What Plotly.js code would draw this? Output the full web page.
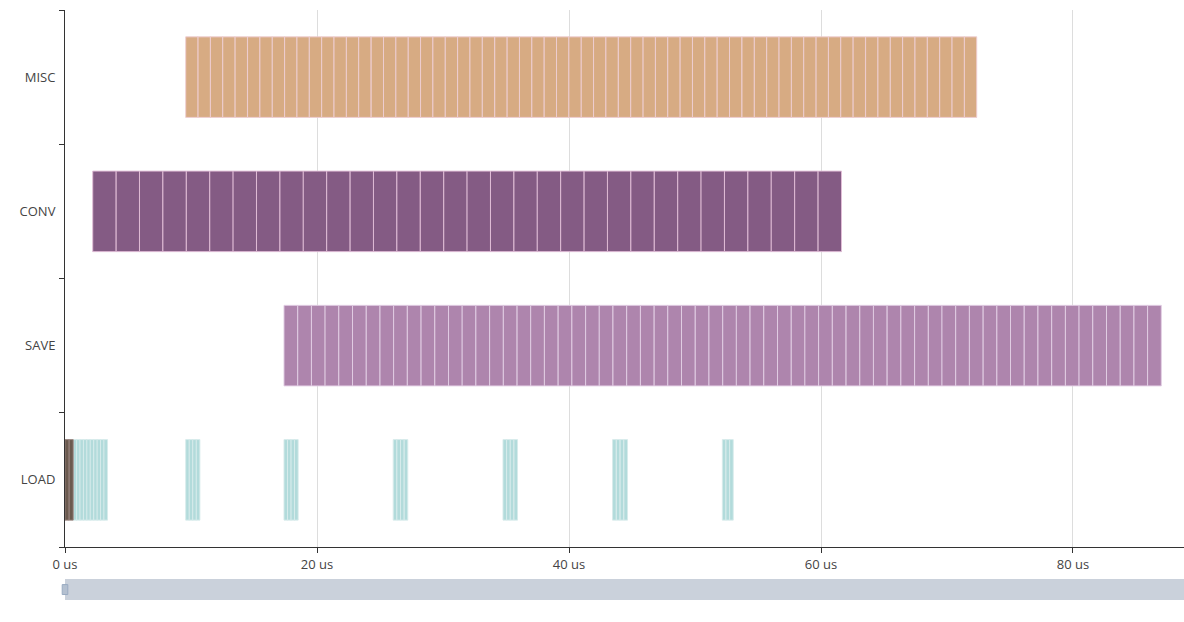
<!DOCTYPE html>
<html>
<head>
<meta charset="utf-8">
<script src="https://cdn.plot.ly/plotly-3.0.1.min.js"></script>
<style>
html,body{margin:0;padding:0;background:#fff;}
#chart{width:1184px;height:622px;}
</style>
</head>
<body>
<div id="chart"></div>
<script>
// Categories (bottom to top)
const categories = ['LOAD', 'SAVE', 'CONV', 'MISC'];

// Segment start times (us)
const miscStarts = [9.58, 10.56, 11.54, 12.52, 13.50, 14.49, 15.47, 16.45, 17.43, 18.41,
  19.39, 20.37, 21.35, 22.33, 23.31, 24.30, 25.28, 26.26, 27.24, 28.22,
  29.20, 30.18, 31.16, 32.14, 33.12, 34.11, 35.09, 36.07, 37.05, 38.03,
  39.01, 39.99, 40.97, 41.95, 42.93, 43.92, 44.90, 45.88, 46.86, 47.84,
  48.82, 49.80, 50.78, 51.76, 52.74, 53.73, 54.71, 55.69, 56.67, 57.65,
  58.63, 59.61, 60.59, 61.57, 62.55, 63.54, 64.52, 65.50, 66.48, 67.46,
  68.44, 69.42, 70.40, 71.38];
const miscDur = 0.98;

const convStarts = [2.20, 4.06, 5.91, 7.77, 9.63, 11.49, 13.34, 15.20, 17.06, 18.91,
  20.77, 22.63, 24.48, 26.34, 28.20, 30.06, 31.91, 33.77, 35.63, 37.48,
  39.34, 41.20, 43.05, 44.91, 46.77, 48.63, 50.48, 52.34, 54.20, 56.05,
  57.91, 59.77];
const convDur = 1.857;

const saveStarts = [17.38, 18.47, 19.56, 20.64, 21.73, 22.82, 23.91, 25.00, 26.08, 27.17,
  28.26, 29.35, 30.44, 31.52, 32.61, 33.70, 34.79, 35.88, 36.96, 38.05,
  39.14, 40.23, 41.32, 42.40, 43.49, 44.58, 45.67, 46.76, 47.84, 48.93,
  50.02, 51.11, 52.20, 53.28, 54.37, 55.46, 56.55, 57.64, 58.72, 59.81,
  60.90, 61.99, 63.08, 64.16, 65.25, 66.34, 67.43, 68.52, 69.60, 70.69,
  71.78, 72.87, 73.96, 75.04, 76.13, 77.22, 78.31, 79.40, 80.48, 81.57,
  82.66, 83.75, 84.84, 85.92];
const saveDur = 1.088;

const loadDarkStarts = [0.00, 0.33];
const loadDarkDur = 0.32;

const loadStarts = [0.65, 0.92, 1.19, 1.46, 1.73, 2.00, 2.28, 2.55, 2.82, 3.09,
  9.58, 9.86, 10.14, 10.42,
  17.38, 17.66, 17.94, 18.22,
  26.05, 26.34, 26.63, 26.92,
  34.76, 35.05, 35.34, 35.63,
  43.46, 43.76, 44.06, 44.36,
  52.17, 52.46, 52.75];
const loadDur = 0.285;

// Axis ticks
const xTicks = [0, 20, 40, 60, 80];
const xTickText = ['0 us', '20 us', '40 us', '60 us', '80 us'];

function seg(name, starts, dur, color, lineColor) {
  return {
    type: 'bar',
    orientation: 'h',
    name: name,
    y: starts.map(() => name === 'LOADDARK' ? 'LOAD' : name),
    base: starts,
    x: starts.map(() => dur),
    width: 0.6,
    marker: { color: color, line: { color: lineColor, width: 1 } },
    hoverinfo: 'skip',
    showlegend: false
  };
}

const traces = [
  seg('MISC', miscStarts, miscDur, '#d7ab83', 'rgba(238,205,210,0.95)'),
  seg('CONV', convStarts, convDur, '#845b84', 'rgba(226,190,215,0.95)'),
  seg('SAVE', saveStarts, saveDur, '#ae85ad', 'rgba(226,205,228,0.95)'),
  seg('LOAD', loadStarts, loadDur, '#b2dbdb', 'rgba(215,235,235,0.95)'),
  seg('LOADDARK', loadDarkStarts, loadDarkDur, '#6b5a4f', 'rgba(150,130,125,0.9)')
];

const layout = {
  width: 1184,
  height: 622,
  margin: { l: 65, r: 0, t: 10, b: 75 },
  paper_bgcolor: '#fff',
  plot_bgcolor: '#fff',
  barmode: 'overlay',
  font: { family: 'Open Sans, Noto Sans, sans-serif', size: 13, color: '#444' },
  xaxis: {
    range: [0, 88.81],
    tickvals: xTicks,
    ticktext: xTickText,
    showgrid: true,
    gridcolor: '#dddddd',
    gridwidth: 1,
    zeroline: false,
    showline: true,
    linecolor: '#333',
    linewidth: 1,
    ticks: 'outside',
    ticklen: 5,
    tickcolor: '#333',
    tickfont: { size: 13, color: '#444' },
    fixedrange: true
  },
  yaxis: {
    type: 'category',
    categoryorder: 'array',
    categoryarray: categories,
    range: [-0.5, 3.5],
    tickson: 'boundaries',
    ticks: 'outside',
    ticklen: 5,
    tickcolor: '#333',
    ticklabelstandoff: 6,
    showline: true,
    linecolor: '#333',
    linewidth: 1,
    showgrid: false,
    zeroline: false,
    tickfont: { size: 13, color: '#444' },
    fixedrange: true
  },
  shapes: [
    { type: 'rect', xref: 'paper', yref: 'paper', x0: 0, x1: 1, y0: -0.0987, y1: -0.0596,
      fillcolor: '#cad1db', line: { width: 0 }, layer: 'above' },
    { type: 'rect', xref: 'paper', yref: 'paper', x0: -0.0025, x1: 0.0025, y0: -0.0885, y1: -0.0700,
      fillcolor: '#b4c0d0', line: { color: '#9aabc2', width: 1 }, layer: 'above' }
  ]
};

Plotly.newPlot('chart', traces, layout, { displayModeBar: false, staticPlot: true });
</script>
</body>
</html>
